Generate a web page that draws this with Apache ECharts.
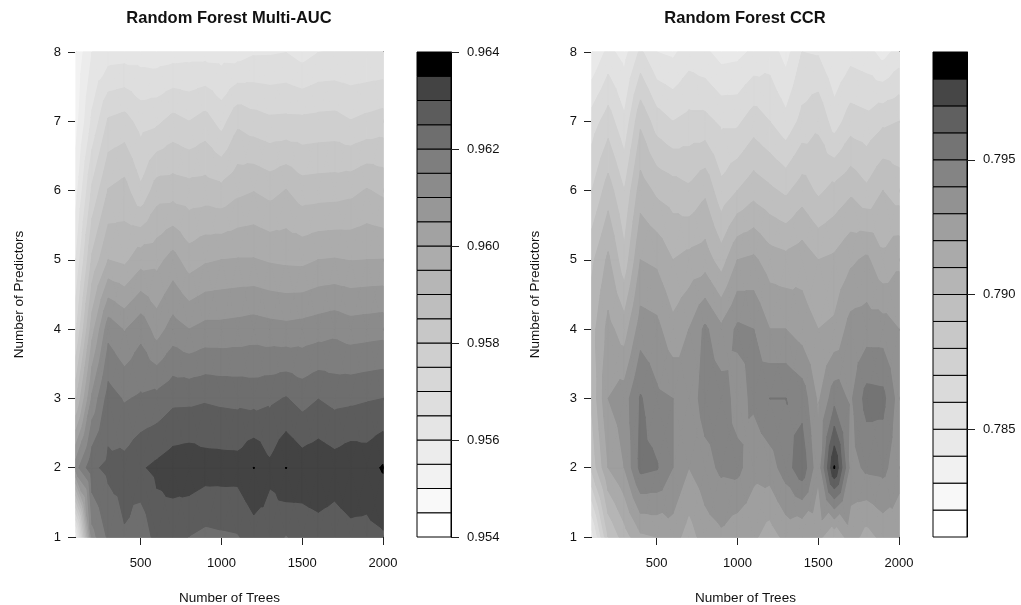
<!DOCTYPE html>
<html>
<head>
<meta charset="utf-8">
<script src="https://cdn.jsdelivr.net/npm/echarts@6/dist/echarts.min.js"></script>
<style>
html, body { margin: 0; padding: 0; background: #fff; }
#chart { width: 1021px; height: 605px; }
</style>
</head>
<body>
<div id="chart"></div>
<script>
const trees = [100, 200, 300, 400, 500, 600, 700, 800, 900, 1000, 1100, 1200, 1300, 1400, 1500, 1600, 1700, 1800, 1900, 2000];
const predictors = [1, 2, 3, 4, 5, 6, 7, 8];
const treeTicks = [500, 1000, 1500, 2000];

const aucLevels = [0.954, 0.9545, 0.955, 0.9555, 0.956, 0.9565, 0.957, 0.9575, 0.958, 0.9585, 0.959,
    0.9595, 0.960, 0.9605, 0.961, 0.9615, 0.962, 0.9625, 0.963, 0.9635, 0.964];
const aucTicks = [0.954, 0.956, 0.958, 0.960, 0.962, 0.964];

const ccrLevels = [0.781, 0.782, 0.783, 0.784, 0.785, 0.786, 0.787, 0.788, 0.789, 0.790,
    0.791, 0.792, 0.793, 0.794, 0.795, 0.796, 0.797, 0.798, 0.799];
const ccrTicks = [0.785, 0.790, 0.795];

// one row per number of predictors (1..8), one column per number of trees
const auc = [
    [0.9556, 0.9613, 0.9621, 0.96246, 0.96205, 0.96274, 0.96264, 0.96249, 0.96237, 0.96242, 0.96246, 0.96276, 0.96277, 0.96247, 0.96274, 0.9628, 0.96275, 0.96286, 0.96285, 0.96294],
    [0.9613, 0.9624, 0.96262, 0.96267, 0.96294, 0.96311, 0.96328, 0.96334, 0.96322, 0.96321, 0.9632, 0.96351, 0.9631, 0.96351, 0.96327, 0.96336, 0.96323, 0.96337, 0.9633, 0.96355],
    [0.9589, 0.9611, 0.96222, 0.96195, 0.96207, 0.96215, 0.96237, 0.96238, 0.96244, 0.96239, 0.96236, 0.96231, 0.9624, 0.96253, 0.96231, 0.96249, 0.96235, 0.96239, 0.96245, 0.9625],
    [0.9574, 0.9598, 0.96131, 0.96096, 0.96134, 0.96077, 0.96121, 0.961, 0.96115, 0.96115, 0.96119, 0.96125, 0.96118, 0.96114, 0.96119, 0.96127, 0.96135, 0.96123, 0.96127, 0.96131],
    [0.9565, 0.9586, 0.9595, 0.95938, 0.95979, 0.95984, 0.96019, 0.95974, 0.95993, 0.960, 0.96003, 0.96003, 0.95994, 0.95989, 0.95987, 0.960, 0.96003, 0.95998, 0.960, 0.96001],
    [0.9558, 0.9576, 0.95853, 0.95869, 0.95809, 0.95875, 0.95877, 0.9587, 0.95873, 0.95864, 0.95887, 0.95898, 0.95883, 0.95902, 0.95874, 0.95877, 0.95879, 0.95886, 0.95904, 0.95889],
    [0.9553, 0.9566, 0.95757, 0.95769, 0.95731, 0.9574, 0.95766, 0.9575, 0.9577, 0.9573, 0.95788, 0.95771, 0.9576, 0.95762, 0.95761, 0.95765, 0.95767, 0.95752, 0.95763, 0.95772],
    [0.9551, 0.9560, 0.95622, 0.95626, 0.95626, 0.95621, 0.95627, 0.95631, 0.95631, 0.95629, 0.95627, 0.95643, 0.95644, 0.95649, 0.95629, 0.95649, 0.95652, 0.9565, 0.9565, 0.95652]
];

const ccr = [
    [0.7845, 0.7890, 0.7905, 0.7918, 0.7920, 0.7925, 0.7915, 0.7925, 0.7928, 0.7923, 0.7922, 0.7915, 0.7923, 0.7920, 0.7923, 0.7912, 0.7925, 0.7916, 0.7923, 0.7925],
    [0.7893, 0.7920, 0.7930, 0.7953, 0.7951, 0.7940, 0.7930, 0.7936, 0.7942, 0.7943, 0.7933, 0.7935, 0.7945, 0.7957, 0.7932, 0.7981, 0.7936, 0.7942, 0.7943, 0.7933],
    [0.7902, 0.7930, 0.7935, 0.7951, 0.7942, 0.7940, 0.7933, 0.7945, 0.7945, 0.7936, 0.7942, 0.79501, 0.79501, 0.7946, 0.7928, 0.7946, 0.7938, 0.7954, 0.7953, 0.7935],
    [0.7906, 0.7923, 0.7915, 0.7935, 0.7933, 0.7923, 0.7930, 0.7942, 0.7932, 0.7942, 0.7940, 0.7930, 0.7930, 0.7925, 0.7920, 0.7922, 0.7934, 0.7935, 0.7935, 0.7930],
    [0.7898, 0.7912, 0.7893, 0.7920, 0.7918, 0.7910, 0.7913, 0.7915, 0.7905, 0.7920, 0.7922, 0.7915, 0.7913, 0.7916, 0.7910, 0.7912, 0.7918, 0.7922, 0.7912, 0.7918],
    [0.7880, 0.7895, 0.7880, 0.7905, 0.7898, 0.7895, 0.7892, 0.7898, 0.7883, 0.7890, 0.7896, 0.7892, 0.7888, 0.7895, 0.7888, 0.7893, 0.7898, 0.7892, 0.7900, 0.7895],
    [0.7865, 0.7875, 0.7862, 0.7888, 0.7875, 0.7870, 0.7873, 0.7873, 0.7868, 0.7868, 0.7875, 0.7870, 0.7863, 0.7873, 0.7878, 0.7865, 0.7875, 0.7873, 0.7878, 0.7880],
    [0.7840, 0.7853, 0.7846, 0.7862, 0.7850, 0.7848, 0.7855, 0.7852, 0.7846, 0.7847, 0.7852, 0.7855, 0.7846, 0.7860, 0.7859, 0.7850, 0.7856, 0.7854, 0.7846, 0.7854]
];

const FONT = 'Liberation Sans';
const INK = '#111';

// like R's gray.colors(n, start = 1, end = 0): white for the lowest band, black for the top one
function grayColors(n) {
    let out = [];
    for (let k = 0; k < n; k++) {
        let g = Math.round(255 * Math.pow((n - 1 - k) / (n - 1), 1 / 2.2));
        out.push('rgb(' + g + ',' + g + ',' + g + ')');
    }
    return out;
}

// keep the part of a polygon where v >= level
function clipAbove(poly, level) {
    let out = [];
    for (let k = 0; k < poly.length; k++) {
        let a = poly[k], b = poly[(k + 1) % poly.length];
        let ina = a.v >= level, inb = b.v >= level;
        if (ina) out.push(a);
        if (ina !== inb) {
            let t = (level - a.v) / (b.v - a.v);
            out.push({ x: a.x + t * (b.x - a.x), y: a.y + t * (b.y - a.y), v: level });
        }
    }
    return out;
}

// every cell is cut in four triangles round its centre, then each band is
// stacked on top of the lighter ones (region where value >= band's lower level)
function contourSeries(values, levels, axisIndex) {
    let colors = grayColors(levels.length - 1);
    let triangles = [];
    for (let j = 0; j < predictors.length - 1; j++) {
        for (let i = 0; i < trees.length - 1; i++) {
            let c = [
                { x: trees[i], y: predictors[j], v: values[j][i] },
                { x: trees[i + 1], y: predictors[j], v: values[j][i + 1] },
                { x: trees[i + 1], y: predictors[j + 1], v: values[j + 1][i + 1] },
                { x: trees[i], y: predictors[j + 1], v: values[j + 1][i] }
            ];
            let mid = {
                x: (trees[i] + trees[i + 1]) / 2,
                y: (predictors[j] + predictors[j + 1]) / 2,
                v: (c[0].v + c[1].v + c[2].v + c[3].v) / 4
            };
            for (let k = 0; k < 4; k++) {
                triangles.push([c[k], c[(k + 1) % 4], mid]);
            }
        }
    }
    return {
        type: 'custom',
        xAxisIndex: axisIndex,
        yAxisIndex: axisIndex,
        data: [[trees[0], predictors[0]]],
        encode: { x: 0, y: 1 },
        silent: true,
        animation: false,
        renderItem: function (params, api) {
            let children = [];
            for (let b = 0; b < levels.length - 1; b++) {
                triangles.forEach(function (tri) {
                    let poly = clipAbove(tri, levels[b]);
                    if (poly.length < 3) return;
                    children.push({
                        type: 'polygon',
                        shape: { points: poly.map(p => api.coord([p.x, p.y])) },
                        style: { fill: colors[b], stroke: colors[b], lineWidth: 1 }
                    });
                });
            }
            return { type: 'group', children: children };
        }
    };
}

function keySeries(levels, axisIndex) {
    let colors = grayColors(levels.length - 1);
    let boxes = [];
    for (let b = 0; b < levels.length - 1; b++) {
        boxes.push([levels[b], levels[b + 1], b]);
    }
    return {
        type: 'custom',
        xAxisIndex: axisIndex,
        yAxisIndex: axisIndex,
        data: boxes,
        encode: { y: [0, 1] },
        silent: true,
        animation: false,
        z: 1,
        renderItem: function (params, api) {
            let lo = api.coord([0, api.value(0)]);
            let hi = api.coord([1, api.value(1)]);
            return {
                type: 'rect',
                shape: { x: lo[0], y: hi[1], width: hi[0] - lo[0], height: lo[1] - hi[1] },
                style: { fill: colors[api.value(2)], stroke: '#000', lineWidth: 1 }
            };
        }
    };
}

function frameAxis(gridIndex, position, type) {
    return {
        type: 'value', gridIndex: gridIndex, position: position,
        min: type === 'x' ? 100 : 1, max: type === 'x' ? 2000 : 8,
        axisLine: { show: true, onZero: false, lineStyle: { color: '#222', width: 1 } },
        axisTick: { show: false }, axisLabel: { show: false }, splitLine: { show: false }
    };
}

let labelStyle = { color: INK, fontFamily: FONT, fontSize: 13 };
let nameStyle = { color: INK, fontFamily: FONT, fontSize: 13.5 };

function treesAxis(gridIndex) {
    return {
        type: 'value', gridIndex: gridIndex, position: 'bottom', min: 100, max: 2000,
        name: 'Number of Trees', nameLocation: 'middle', nameGap: 54,
        nameTextStyle: nameStyle,
        axisLine: { show: true, onZero: false, lineStyle: { color: '#222', width: 1 } },
        axisTick: { show: true, length: 8, customValues: treeTicks, lineStyle: { color: '#222' } },
        axisLabel: Object.assign({ margin: 20, customValues: treeTicks, formatter: v => String(v) }, labelStyle),
        splitLine: { show: false }
    };
}

function predictorsAxis(gridIndex) {
    return {
        type: 'value', gridIndex: gridIndex, position: 'left', min: 1, max: 8, interval: 1,
        name: 'Number of Predictors', nameLocation: 'middle', nameGap: 50,
        nameTextStyle: nameStyle,
        axisLine: { show: true, onZero: false, lineStyle: { color: '#222', width: 1 } },
        axisTick: { show: true, length: 8, lineStyle: { color: '#222' } },
        axisLabel: Object.assign({ margin: 15 }, labelStyle),
        splitLine: { show: false }
    };
}

function keyAxis(gridIndex, levels, ticks) {
    return {
        type: 'value', gridIndex: gridIndex, position: 'right', z: 5,
        min: levels[0], max: levels[levels.length - 1],
        axisLine: { show: true, onZero: false, lineStyle: { color: '#000', width: 1 } },
        axisTick: { show: true, inside: false, length: 8, customValues: ticks, lineStyle: { color: '#222' } },
        axisLabel: Object.assign({ margin: 16, customValues: ticks, formatter: v => v.toFixed(3) }, labelStyle),
        splitLine: { show: false }
    };
}

function hiddenAxis(gridIndex) {
    return { type: 'value', gridIndex: gridIndex, min: 0, max: 1, show: false };
}

let chart = echarts.init(document.getElementById('chart'), null, { renderer: 'canvas' });

let titleStyle = { fontFamily: FONT, fontSize: 16.5, fontWeight: 'bold', color: INK };

let option = {
    backgroundColor: '#fff',
    animation: false,
    title: [
        { text: 'Random Forest Multi-AUC', left: 229, top: 10, textAlign: 'center', padding: 0, textStyle: titleStyle },
        { text: 'Random Forest CCR', left: 745, top: 10, textAlign: 'center', padding: 0, textStyle: titleStyle }
    ],
    grid: [
        { left: 76, top: 52, width: 307, height: 485, outerBoundsMode: 'none' },
        { left: 417, top: 52, width: 34, height: 485, outerBoundsMode: 'none' },
        { left: 592, top: 52, width: 307, height: 485, outerBoundsMode: 'none' },
        { left: 933, top: 52, width: 34, height: 485, outerBoundsMode: 'none' }
    ],
    xAxis: [
        treesAxis(0), hiddenAxis(1), treesAxis(2), hiddenAxis(3),
        frameAxis(0, 'top', 'x'), frameAxis(2, 'top', 'x')
    ],
    yAxis: [
        predictorsAxis(0), keyAxis(1, aucLevels, aucTicks), predictorsAxis(2), keyAxis(3, ccrLevels, ccrTicks),
        frameAxis(0, 'right', 'y'), frameAxis(2, 'right', 'y')
    ],
    series: [
        contourSeries(auc, aucLevels, 0),
        keySeries(aucLevels, 1),
        contourSeries(ccr, ccrLevels, 2),
        keySeries(ccrLevels, 3)
    ]
};

chart.setOption(option);
</script>
</body>
</html>
